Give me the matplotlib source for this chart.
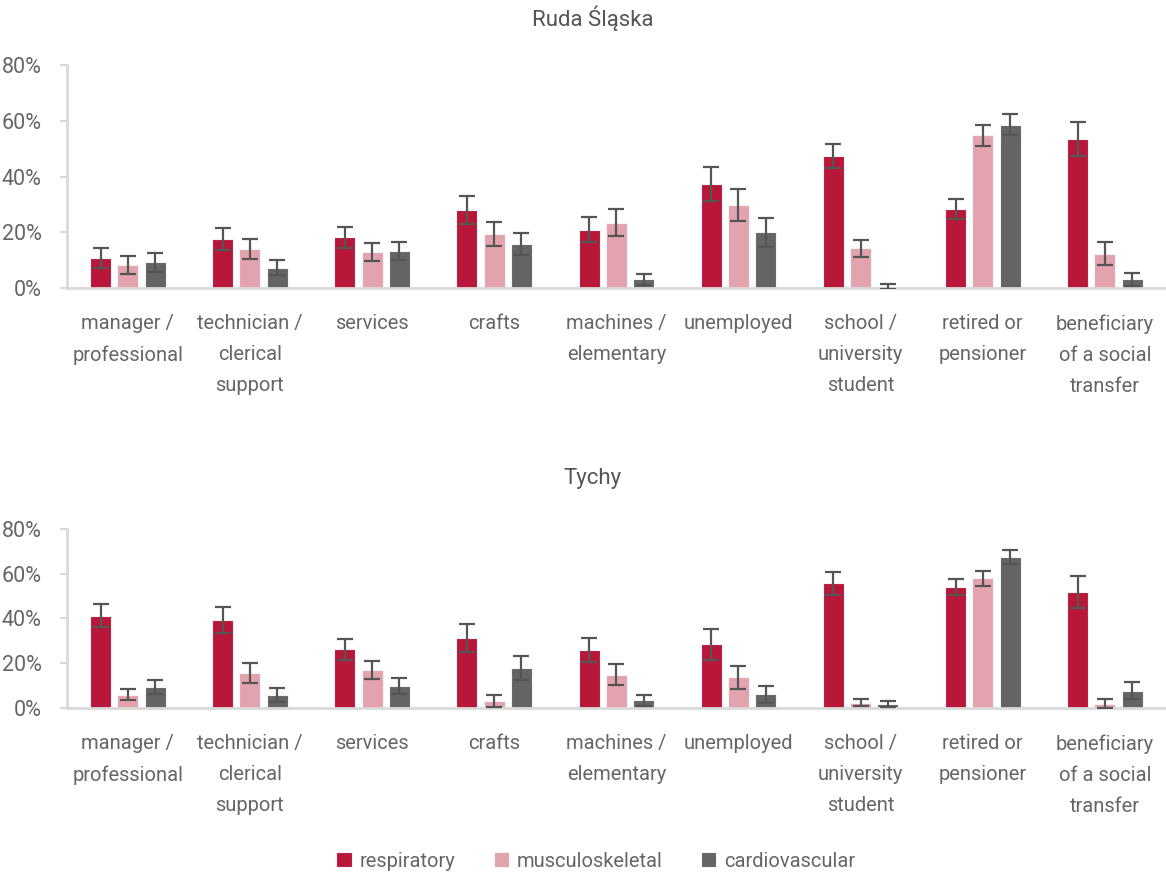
import matplotlib.pyplot as plt
import numpy as np
from matplotlib.ticker import PercentFormatter

# 共通のフォント設定
plt.rcParams['font.family'] = ['Roboto', 'DejaVu Sans']
plt.rcParams['font.weight'] = 'normal'

categories = ['manager /\nprofessional', 'technician /\nclerical\nsupport', 'services', 'crafts',
              'machines /\nelementary', 'unemployed', 'school /\nuniversity\nstudent',
              'retired or\npensioner', 'beneficiary\nof a social\ntransfer']
series = ['respiratory', 'musculoskeletal', 'cardiovascular']
colors = ['#B8173A', '#E3A3AE', '#646464']

# Ruda Śląska (%)
ruda_resp = [10.8, 17.7, 18.2, 28.0, 21.0, 37.3, 47.5, 28.3, 53.4]
ruda_musc = [8.3, 14.0, 12.9, 19.4, 23.5, 29.7, 14.3, 54.9, 12.3]
ruda_card = [9.2, 7.2, 13.3, 15.8, 3.2, 20.0, 0.5, 58.6, 3.1]
ruda_resp_err = [3.6, 3.9, 3.8, 5.0, 4.5, 6.0, 4.4, 3.6, 6.1]
ruda_musc_err = [3.2, 3.5, 3.3, 4.4, 4.8, 5.8, 3.0, 3.8, 4.1]
ruda_card_err = [3.3, 2.7, 3.3, 4.1, 2.0, 5.2, 0.8, 3.8, 2.3]

# Tychy (%)
tychy_resp = [41.2, 39.3, 26.2, 31.3, 25.9, 28.4, 55.6, 53.9, 51.8]
tychy_musc = [5.9, 15.6, 17.0, 3.0, 14.9, 13.7, 2.4, 57.9, 1.9]
tychy_card = [9.4, 5.8, 9.8, 17.7, 3.4, 6.1, 1.8, 67.4, 7.7]
tychy_resp_err = [5.2, 5.8, 4.7, 6.3, 5.5, 6.9, 5.0, 3.5, 7.3]
tychy_musc_err = [2.5, 4.5, 4.1, 2.7, 4.6, 5.1, 1.7, 3.4, 2.0]
tychy_card_err = [3.0, 3.0, 3.6, 5.4, 2.4, 3.7, 1.5, 3.1, 3.9]

text_col = '#666666'
axis_col = '#D9D9D9'
fs = 14.5

fig = plt.figure(figsize=(11.66, 8.76), dpi=100)

def draw_panel(rect, title, title_y, values, errors):
    ax = fig.add_axes(rect)
    x = np.arange(len(categories))
    width = 0.172
    step = 0.223
    for i, (vals, errs) in enumerate(zip(values, errors)):
        ax.bar(x + (i - 1) * step, vals, width, color=colors[i], edgecolor='#F4F4F4',
               linewidth=0.8, label=series[i], zorder=2)
        ax.errorbar(x + (i - 1) * step, vals, yerr=errs, fmt='none', ecolor='#555555',
                    elinewidth=1.6, capsize=5.5, capthick=1.6, zorder=3)
    ax.set_xlim(-0.5, 8.5)
    ax.set_ylim(0, 80)
    ax.set_yticks([0, 20, 40, 60, 80])
    ax.yaxis.set_major_formatter(PercentFormatter(decimals=0))
    ax.set_xticks(x)
    ax.set_xticklabels(categories, linespacing=1.8)
    ax.tick_params(axis='x', length=0, pad=19, labelsize=fs, labelcolor=text_col)
    ax.tick_params(axis='y', length=5, width=1.5, color=axis_col, pad=13,
                   labelsize=15.5, labelcolor=text_col)
    for s in ['top', 'right']:
        ax.spines[s].set_visible(False)
    for s in ['left', 'bottom']:
        ax.spines[s].set_color(axis_col)
        ax.spines[s].set_linewidth(2)
    fig.text(0.508, title_y, title, ha='center', va='center', fontsize=16,
             color='#555555')
    return ax

ax1 = draw_panel([0.0572, 0.6712, 0.9428, 0.2543], 'Ruda Śląska', 0.979,
                 [ruda_resp, ruda_musc, ruda_card],
                 [ruda_resp_err, ruda_musc_err, ruda_card_err])
ax2 = draw_panel([0.0572, 0.1918, 0.9428, 0.2046], 'Tychy', 0.454,
                 [tychy_resp, tychy_musc, tychy_card],
                 [tychy_resp_err, tychy_musc_err, tychy_card_err])

handles, labels = ax1.get_legend_handles_labels()
leg = fig.legend(handles, labels, loc='center', bbox_to_anchor=(0.511, 0.017), ncol=3,
                 frameon=False, fontsize=fs, handlelength=0.75, handleheight=0.75,
                 handletextpad=0.4, columnspacing=1.9)
for t in leg.get_texts():
    t.set_color(text_col)

fig.savefig('out.png', dpi=100)
